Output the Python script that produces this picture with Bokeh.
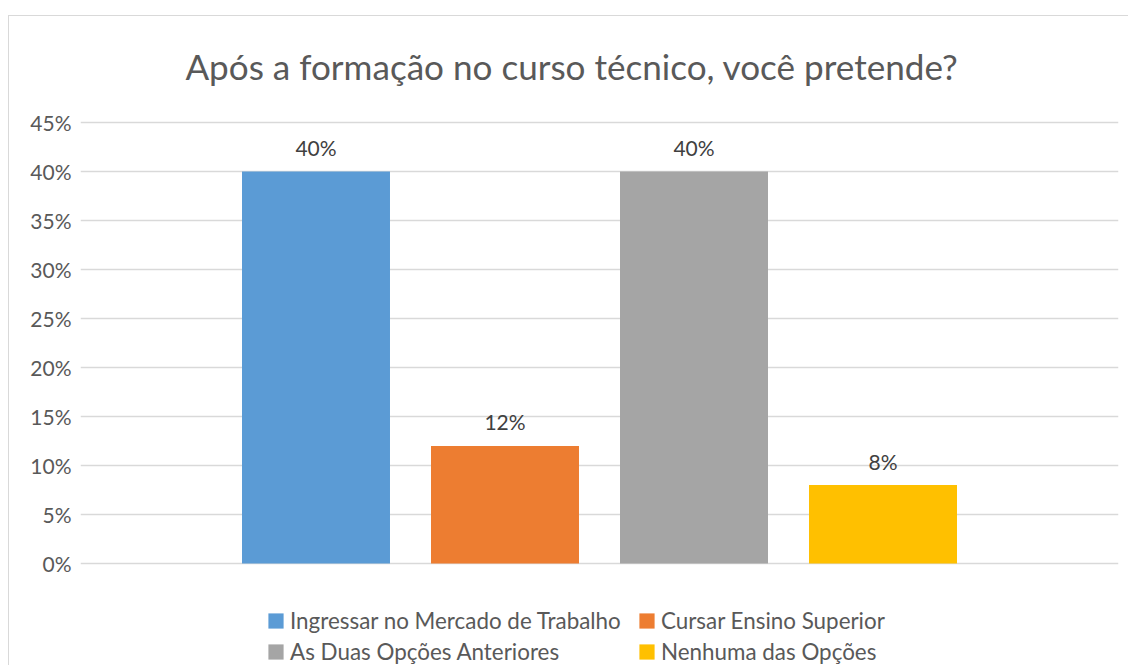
from bokeh.plotting import figure
from bokeh.models import (ColumnDataSource, FactorRange, Range1d, Legend, LegendItem,
                          NumeralTickFormatter, FixedTicker, Label)
from bokeh.core.properties import value
from bokeh.embed import file_html
from bokeh.resources import INLINE

# ---- data ----
title_text = "Após a formação no curso técnico, você pretende?"
categories = ["Ingressar no Mercado de Trabalho", "Cursar Ensino Superior",
              "As Duas Opções Anteriores", "Nenhuma das Opções"]
values = [0.40, 0.12, 0.40, 0.08]
value_labels = ["40%", "12%", "40%", "8%"]
colors = ["#5B9BD5", "#ED7D31", "#A5A5A5", "#FFC000"]
y_ticks = [0.0, 0.05, 0.10, 0.15, 0.20, 0.25, 0.30, 0.35, 0.40, 0.45]

FONT = "Lato"
TXT = "#595959"
GRID = "#D9D9D9"

W, H = 1120, 650
ZERO_PX = 547         # canvas px of the 0% gridline
PLOT_PX = 441         # px from 0% to 45%
BAR_PITCH = 189       # px between bar centres
px_per_unit = PLOT_PX / max(y_ticks)
y_start = -(H - ZERO_PX) / px_per_unit      # frame extends down to hold the legend
y_end = ZERO_PX / px_per_unit               # and up to hold the title

src = ColumnDataSource(dict(cat=categories, val=values, lab=value_labels, col=colors))

p = figure(width=W, height=H, output_backend="svg", toolbar_location=None,
           x_range=FactorRange(factors=categories, range_padding=0.373,
                               range_padding_units="percent"),
           y_range=Range1d(y_start, y_end),
           min_border_left=71, min_border_right=11, min_border_top=0,
           min_border_bottom=0)
p.styles = {"margin-left": "8px", "margin-top": "15px",
            "border-top": "1px solid #D9D9D9", "border-left": "1px solid #D9D9D9"}

p.outline_line_color = None
p.xaxis.visible = False
p.xgrid.visible = False
p.ygrid.ticker = FixedTicker(ticks=y_ticks)
p.ygrid.grid_line_color = GRID
p.ygrid.grid_line_width = 1.3

ya = p.yaxis[0]
ya.ticker = FixedTicker(ticks=y_ticks)
ya.formatter = NumeralTickFormatter(format="0%")
ya.axis_line_color = None
ya.major_tick_line_color = None
ya.major_tick_out = 0
ya.major_tick_in = 0
ya.minor_tick_line_color = None
ya.major_label_standoff = 9
ya.major_label_text_font = FONT
ya.major_label_text_font_size = "21px"
ya.major_label_text_color = TXT

r = p.vbar(x="cat", top="val", width=0.783, source=src, fill_color="col",
           line_color=None)

p.text(x="cat", y="val", text="lab", source=src, text_align="center",
       text_baseline="alphabetic", y_offset=-24, text_font=value(FONT),
       text_font_size="21px", text_color="#404040")

# chart title, centred on the whole chart area (slightly left of the plot centre)
title_x = len(categories) / 2 - 27.5 / BAR_PITCH
title_y = (ZERO_PX - 49) / px_per_unit
p.add_layout(Label(x=title_x, y=title_y, text=title_text, text_align="center",
                   text_baseline="alphabetic", text_font=FONT, text_font_size="35.1px",
                   text_color=TXT))

def make_legend(idx, loc):
    return Legend(items=[LegendItem(label=categories[i], renderers=[r], index=i) for i in idx],
                  orientation="horizontal", location=loc,
                  glyph_width=19, glyph_height=19, label_height=19, label_width=331,
                  label_standoff=5, spacing=16, padding=0, margin=0,
                  border_line_color=None, background_fill_alpha=0,
                  label_text_font=FONT, label_text_font_size="22.4px",
                  label_text_color=TXT)

p.add_layout(make_legend([0, 1], (186, 32)))
p.add_layout(make_legend([2, 3], (186, 1)))

open("out.html", "w").write(file_html(p, INLINE))
